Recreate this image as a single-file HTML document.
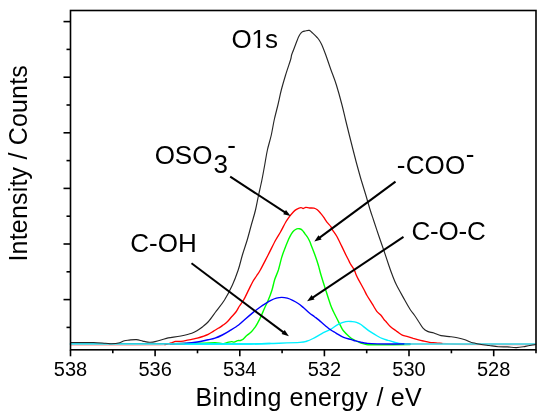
<!DOCTYPE html>
<html><head><meta charset="utf-8"><title>XPS O1s</title>
<style>
html,body{margin:0;padding:0;background:#fff;}
body{width:550px;height:417px;overflow:hidden;position:relative;font-family:"Liberation Sans",Arial,sans-serif;}
svg{position:absolute;left:0;top:0;display:block;}
svg text{font-family:"Liberation Sans",Arial,sans-serif;fill:#000;}
</style></head><body>
<svg width="550" height="417" viewBox="0 0 550 417">
<rect width="550" height="417" fill="#fff"/>
<path d="M70.5,345.4 C78.8,345.4 105.1,345.4 120.0,345.4 C134.9,345.3 152.5,345.2 160.0,345.1 C167.5,345.0 164.2,344.7 165.0,344.6" fill="none" stroke="#ff0000" stroke-width="1.2" opacity="0.25"/>
<path d="M442.0,343.3 C443.3,343.4 445.3,343.8 450.0,344.0 C454.7,344.2 455.8,344.5 470.0,344.6 C484.2,344.8 524.6,344.8 535.5,344.9" fill="none" stroke="#ff0000" stroke-width="1.2" opacity="0.25"/>
<path d="M165.0,344.6 C165.6,344.5 167.3,344.1 168.5,343.8 C169.7,343.5 171.0,343.0 172.2,342.6 C173.4,342.2 174.1,341.6 175.5,341.4 C176.9,341.2 179.1,341.6 180.9,341.4 C182.7,341.2 184.6,340.8 186.4,340.4 C188.2,340.0 190.0,339.7 191.8,339.3 C193.6,338.9 195.5,338.7 197.3,338.2 C199.1,337.7 200.9,337.1 202.7,336.5 C204.5,335.9 206.4,335.3 208.2,334.4 C210.0,333.5 211.8,332.2 213.6,331.1 C215.4,330.0 217.4,328.9 219.1,327.8 C220.8,326.8 222.1,325.8 223.5,324.8 C224.9,323.8 226.1,323.0 227.3,321.8 C228.6,320.6 229.6,319.1 231.0,317.5 C232.4,315.9 234.5,313.9 235.9,312.0 C237.3,310.1 238.2,308.0 239.5,306.0 C240.8,304.0 242.0,302.7 243.6,300.0 C245.2,297.3 247.3,292.6 248.8,289.6 C250.3,286.6 251.3,284.3 252.6,282.0 C253.9,279.7 255.2,278.0 256.5,276.0 C257.8,274.0 258.4,273.5 260.3,270.0 C262.2,266.5 265.5,260.0 268.1,255.0 C270.7,250.0 273.6,243.8 275.7,240.0 C277.8,236.2 278.8,235.0 280.5,232.0 C282.2,229.0 284.3,224.6 285.8,222.0 C287.3,219.4 288.4,218.0 289.6,216.3 C290.9,214.6 292.2,213.2 293.3,212.0 C294.4,210.8 295.2,210.0 296.5,209.3 C297.8,208.6 299.8,207.7 300.9,207.6 C302.0,207.5 302.3,208.5 303.1,208.5 C303.9,208.5 304.7,207.5 305.8,207.4 C306.9,207.3 308.2,207.9 309.6,208.0 C311.0,208.1 312.7,207.9 314.0,208.2 C315.3,208.5 316.2,209.0 317.3,209.8 C318.4,210.6 319.4,211.8 320.5,213.1 C321.6,214.4 322.7,215.8 323.8,217.4 C324.9,219.0 325.9,220.9 327.1,222.4 C328.3,223.9 330.0,225.4 330.9,226.7 C331.8,228.0 331.5,228.4 332.5,230.0 C333.5,231.6 335.3,233.8 336.9,236.5 C338.4,239.2 340.3,243.3 341.8,246.4 C343.3,249.5 344.7,252.5 345.8,254.8 C346.9,257.1 347.8,258.6 348.5,260.0 C349.2,261.4 349.2,261.9 350.2,263.5 C351.1,265.1 353.2,268.0 354.2,269.8 C355.2,271.6 355.3,272.9 356.0,274.5 C356.7,276.1 357.1,277.0 358.5,279.6 C359.9,282.2 362.8,287.4 364.2,290.0 C365.6,292.6 365.6,293.1 367.0,295.5 C368.4,297.9 370.8,301.6 372.4,304.2 C374.0,306.8 375.4,309.5 376.8,311.3 C378.2,313.1 379.2,313.4 380.5,314.8 C381.8,316.2 383.5,318.9 384.4,320.0 C385.3,321.1 384.9,320.4 385.9,321.5 C386.9,322.6 388.5,324.9 390.3,326.5 C392.1,328.1 394.8,329.9 396.8,331.4 C398.8,332.8 400.5,334.3 402.3,335.2 C404.1,336.1 405.9,336.1 407.7,336.6 C409.5,337.1 411.4,337.8 413.2,338.4 C415.0,338.9 416.8,339.4 418.6,339.9 C420.4,340.4 422.3,340.8 424.1,341.2 C425.9,341.6 427.5,342.0 429.5,342.3 C431.5,342.6 433.9,342.6 436.0,342.8 C438.1,343.0 441.0,343.2 442.0,343.3" fill="none" stroke="#ff0000" stroke-width="1.35" stroke-linejoin="round" stroke-linecap="round"/>
<path d="M170.0,343.7 C175.0,343.6 192.5,343.4 200.0,343.3 C207.5,343.2 211.3,342.8 215.0,342.8 C218.7,342.9 220.3,343.6 222.3,343.6 C224.3,343.6 225.3,343.0 226.8,342.7 C228.3,342.4 230.2,341.7 231.4,341.6 C232.6,341.5 233.1,342.3 234.1,342.1 C235.1,341.9 236.6,340.9 237.7,340.6 C238.8,340.3 239.6,340.8 240.5,340.5 C241.4,340.2 242.1,339.9 243.2,339.1 C244.2,338.3 245.4,336.7 246.8,335.5 C248.2,334.3 250.0,333.2 251.4,331.8 C252.8,330.4 253.9,328.8 255.0,327.3 C256.1,325.8 256.7,324.7 257.7,322.9 C258.7,321.1 259.9,318.8 261.0,316.4 C262.1,314.0 263.1,311.4 264.3,308.7 C265.5,306.0 266.9,303.4 268.2,300.3 C269.5,297.2 270.9,293.5 272.0,290.0 C273.1,286.5 273.7,282.6 274.8,279.3 C275.9,276.0 277.2,273.6 278.4,270.0 C279.5,266.4 280.7,260.8 281.7,257.4 C282.7,254.0 283.4,252.5 284.5,249.5 C285.6,246.5 287.5,241.9 288.6,239.3 C289.8,236.7 290.5,235.2 291.4,233.8 C292.3,232.4 293.2,231.4 294.1,230.6 C295.0,229.8 295.9,229.1 296.8,228.8 C297.7,228.5 298.6,228.6 299.5,228.8 C300.4,229.0 301.4,229.4 302.3,230.2 C303.2,231.0 304.1,232.6 305.0,233.8 C305.9,235.0 306.9,236.1 307.7,237.5 C308.5,238.9 309.4,240.6 310.0,242.0 C310.6,243.4 310.6,243.7 311.5,246.0 C312.4,248.3 314.1,252.6 315.3,255.9 C316.5,259.2 317.6,262.5 318.5,265.7 C319.4,268.9 319.9,271.3 321.0,275.0 C322.1,278.7 323.5,283.1 325.1,288.1 C326.7,293.1 329.2,301.1 330.6,305.0 C332.0,308.9 332.3,309.1 333.4,311.5 C334.5,313.9 336.2,317.1 337.4,319.5 C338.6,321.9 339.5,323.9 340.5,325.7 C341.5,327.5 341.8,328.7 343.2,330.5 C344.6,332.3 347.4,334.9 349.1,336.4 C350.8,337.9 351.5,338.4 353.5,339.5 C355.5,340.6 358.8,342.3 360.9,343.1 C363.0,343.9 363.7,344.2 366.4,344.5 C369.1,344.8 370.0,344.8 377.3,344.8 C384.6,344.8 404.6,344.6 410.0,344.6" fill="none" stroke="#00ff00" stroke-width="1.4" stroke-linejoin="round" stroke-linecap="round"/>
<path d="M175.0,344.0 C179.2,344.0 191.7,344.0 200.0,344.0 C208.3,344.0 216.7,344.0 225.0,344.0 C233.3,344.0 242.5,344.1 250.0,344.0 C257.5,343.9 261.7,343.8 270.0,343.5 C278.3,343.2 293.9,342.8 300.0,342.4 C306.1,342.0 304.3,341.9 306.5,341.3 C308.7,340.7 310.6,339.8 313.1,338.5 C315.7,337.2 318.9,335.1 321.8,333.6 C324.7,332.1 327.8,330.8 330.5,329.3 C333.2,327.8 335.6,325.7 338.2,324.4 C340.8,323.1 343.4,322.1 345.8,321.6 C348.2,321.1 350.5,321.5 352.3,321.6 C354.1,321.7 355.1,321.9 356.5,322.4 C357.9,322.9 359.2,323.4 360.9,324.5 C362.5,325.6 364.6,327.5 366.4,328.9 C368.2,330.3 370.0,331.5 371.8,332.7 C373.6,333.9 375.5,335.0 377.3,336.0 C379.1,337.0 380.9,338.0 382.7,338.7 C384.5,339.4 386.4,339.8 388.2,340.4 C390.0,340.9 391.8,341.5 393.6,342.0 C395.4,342.5 396.4,343.1 399.1,343.4 C401.8,343.7 408.2,343.8 410.0,343.9" fill="none" stroke="#00f0ff" stroke-width="1.4" stroke-linejoin="round" stroke-linecap="round"/>
<path d="M170.0,343.8 C172.7,343.7 181.8,343.6 186.4,343.3 C191.0,343.0 193.7,342.6 197.3,342.0 C200.9,341.4 205.2,340.4 208.2,339.8 C211.1,339.2 212.7,339.0 215.0,338.2 C217.3,337.4 219.9,336.2 222.3,335.0 C224.7,333.8 226.8,332.6 229.5,330.9 C232.2,329.2 236.3,326.7 238.6,325.0 C240.9,323.3 241.2,322.7 243.5,320.7 C245.8,318.7 249.4,315.5 252.3,313.1 C255.2,310.7 258.8,308.1 261.0,306.5 C263.2,304.9 263.9,304.6 265.5,303.6 C267.1,302.6 269.1,301.3 270.9,300.4 C272.7,299.5 274.6,298.7 276.4,298.2 C278.2,297.7 280.0,297.4 281.8,297.4 C283.6,297.4 285.5,297.7 287.3,298.2 C289.1,298.7 290.9,299.5 292.7,300.4 C294.5,301.3 296.4,302.3 298.2,303.5 C300.0,304.7 301.8,306.3 303.6,307.8 C305.4,309.3 307.3,311.2 309.1,312.7 C310.9,314.2 312.9,315.5 314.5,316.7 C316.1,317.9 316.9,318.4 318.7,319.9 C320.5,321.4 323.1,323.9 325.1,325.5 C327.1,327.1 328.7,328.5 330.5,329.8 C332.3,331.1 333.8,331.8 336.0,333.1 C338.2,334.4 341.1,336.3 343.6,337.4 C346.2,338.5 349.3,339.0 351.3,339.6 C353.3,340.2 353.9,340.5 355.5,340.9 C357.1,341.3 359.1,341.8 360.9,342.2 C362.7,342.6 363.7,343.0 366.4,343.3 C369.1,343.6 370.0,343.8 377.3,343.9 C384.6,344.0 404.6,343.9 410.0,343.9" fill="none" stroke="#0000ff" stroke-width="1.4" stroke-linejoin="round" stroke-linecap="round"/>
<path d="M175.0,344.0 C179.2,344.0 191.7,344.0 200.0,344.0 C208.3,344.0 216.7,344.0 225.0,344.0 C233.3,344.0 242.5,344.1 250.0,344.0 C257.5,343.9 266.7,343.6 270.0,343.5" fill="none" stroke="#00f0ff" stroke-width="1.4" stroke-linejoin="round" stroke-linecap="round"/>
<path d="M70.5,343.9 C78.8,343.9 101.1,343.9 120.0,343.9 C138.9,343.9 173.3,343.9 184.0,343.9" fill="none" stroke="#30ccdc" stroke-width="1.7" stroke-linejoin="round" stroke-linecap="round"/>
<path d="M405.0,344.0 C415.8,344.0 448.2,344.0 470.0,344.0 C491.8,344.0 524.6,344.0 535.5,344.0" fill="none" stroke="#30ccdc" stroke-width="1.7" stroke-linejoin="round" stroke-linecap="round"/>
<path d="M70.5,342.5 C72.4,342.5 78.0,342.5 81.8,342.5 C85.6,342.5 89.6,342.4 93.6,342.5 C97.5,342.6 102.5,343.1 105.5,343.3 C108.5,343.5 109.1,343.8 111.4,343.7 C113.8,343.6 117.4,343.2 119.6,342.7 C121.8,342.2 122.8,341.1 124.4,340.7 C126.0,340.3 127.1,340.3 129.1,340.1 C131.1,339.9 134.1,339.4 136.4,339.6 C138.7,339.8 140.8,340.7 142.7,341.1 C144.6,341.5 146.1,341.9 147.8,342.1 C149.5,342.3 151.0,342.4 152.9,342.1 C154.8,341.8 156.8,341.2 159.3,340.5 C161.9,339.8 166.1,338.4 168.2,337.9 C170.3,337.4 169.9,337.7 172.0,337.4 C174.1,337.1 177.6,336.7 180.9,336.0 C184.2,335.3 189.1,334.2 191.8,333.3 C194.5,332.4 195.5,331.6 197.3,330.5 C199.1,329.4 200.8,328.2 202.7,326.7 C204.6,325.2 206.2,324.1 208.5,321.5 C210.8,318.9 213.7,314.5 216.4,310.9 C219.1,307.3 221.8,304.3 224.5,300.0 C227.2,295.7 230.1,290.0 232.4,285.0 C234.7,280.0 236.5,275.0 238.2,270.0 C239.9,265.0 240.9,260.0 242.4,255.0 C243.9,250.0 245.7,245.0 247.2,240.0 C248.7,235.0 249.9,230.0 251.3,225.0 C252.7,220.0 254.3,215.0 255.5,210.0 C256.7,205.0 257.5,200.0 258.6,195.0 C259.7,190.0 260.9,185.0 261.9,180.0 C262.9,175.0 263.8,170.0 264.7,165.0 C265.6,160.0 266.3,155.0 267.4,150.0 C268.5,145.0 270.2,140.0 271.3,135.0 C272.4,130.0 273.1,125.0 274.2,120.0 C275.3,115.0 276.7,110.0 277.9,105.0 C279.1,100.0 280.0,95.0 281.3,90.0 C282.6,85.0 284.1,80.0 285.6,75.0 C287.1,70.0 289.5,63.3 290.5,60.0 C291.5,56.7 291.1,56.7 291.6,55.0 C292.1,53.3 292.9,51.7 293.5,50.0 C294.1,48.3 294.8,46.7 295.4,45.0 C296.0,43.3 296.7,41.5 297.3,40.0 C297.9,38.5 298.3,37.3 298.9,36.2 C299.5,35.1 300.1,34.1 300.7,33.4 C301.3,32.6 301.8,32.1 302.5,31.7 C303.2,31.3 304.0,31.2 305.1,31.0 C306.2,30.8 308.1,30.0 309.4,30.4 C310.7,30.8 311.4,32.0 312.7,33.2 C314.0,34.4 316.0,36.3 317.1,37.5 C318.2,38.7 318.5,39.0 319.3,40.3 C320.1,41.6 320.9,42.8 322.0,45.2 C323.1,47.7 324.3,50.9 325.8,55.0 C327.3,59.1 329.2,65.0 331.0,70.0 C332.8,75.0 334.6,79.2 336.4,85.0 C338.2,90.8 340.5,99.2 342.0,105.0 C343.5,110.8 344.4,115.0 345.6,120.0 C346.8,125.0 348.1,130.0 349.3,135.0 C350.6,140.0 351.8,145.0 353.1,150.0 C354.4,155.0 355.6,160.0 357.0,165.0 C358.4,170.0 359.7,175.0 361.2,180.0 C362.7,185.0 364.3,190.0 365.8,195.0 C367.3,200.0 368.9,205.8 370.2,210.0 C371.5,214.2 372.1,215.8 373.5,220.0 C374.9,224.2 376.8,230.0 378.5,235.0 C380.2,240.0 382.0,245.0 383.7,250.0 C385.4,255.0 387.3,260.8 388.7,265.0 C390.1,269.2 391.0,271.7 392.3,275.0 C393.6,278.3 394.4,280.8 396.5,285.0 C398.6,289.2 402.4,295.8 404.7,300.0 C407.0,304.2 408.9,307.5 410.5,310.0 C412.1,312.5 412.9,313.1 414.3,315.0 C415.7,316.9 417.2,319.3 418.6,321.5 C420.1,323.7 421.5,326.5 423.0,328.1 C424.5,329.8 425.8,330.6 427.6,331.4 C429.4,332.2 431.7,332.3 433.9,333.0 C436.1,333.7 438.2,335.0 441.0,335.6 C443.8,336.2 448.1,336.3 450.8,336.7 C453.5,337.1 454.9,337.3 457.3,337.8 C459.7,338.3 462.7,339.0 465.0,339.7 C467.3,340.4 468.5,341.4 471.0,342.2 C473.5,342.9 477.0,343.6 480.0,344.2 C483.0,344.8 486.1,345.1 489.1,345.5 C492.1,345.9 495.2,346.5 498.2,346.7 C501.2,346.9 504.3,346.8 507.3,346.9 C510.3,347.0 513.4,347.7 516.4,347.6 C519.4,347.5 522.3,346.9 525.5,346.4 C528.7,345.9 533.8,344.8 535.5,344.5" fill="none" stroke="#262626" stroke-width="1.15" stroke-linejoin="round" stroke-linecap="round"/>
<line x1="230.2" y1="176.6" x2="285.4" y2="212.7" stroke="#000" stroke-width="2"/>
<path d="M290.6,216.1 L283.2,214.3 L286.0,210.0 Z" fill="#000"/>
<line x1="395.5" y1="181.6" x2="319.3" y2="237.9" stroke="#000" stroke-width="2"/>
<path d="M314.3,241.6 L318.5,235.2 L321.6,239.4 Z" fill="#000"/>
<line x1="403.5" y1="236.8" x2="312.3" y2="297.9" stroke="#000" stroke-width="2"/>
<path d="M307.1,301.3 L311.6,295.1 L314.5,299.5 Z" fill="#000"/>
<line x1="191.5" y1="263.2" x2="283.9" y2="332.6" stroke="#000" stroke-width="2"/>
<path d="M288.9,336.3 L281.6,334.1 L284.7,329.9 Z" fill="#000"/>
<rect x="70.5" y="10.5" width="465.5" height="339.3" fill="none" stroke="#000" stroke-width="1.6"/>
<line x1="536.0" y1="349.8" x2="536.0" y2="353.3" stroke="#000" stroke-width="1.6"/>
<line x1="493.7" y1="349.8" x2="493.7" y2="356.3" stroke="#000" stroke-width="1.6"/>
<line x1="451.4" y1="349.8" x2="451.4" y2="353.3" stroke="#000" stroke-width="1.6"/>
<line x1="409.0" y1="349.8" x2="409.0" y2="356.3" stroke="#000" stroke-width="1.6"/>
<line x1="366.7" y1="349.8" x2="366.7" y2="353.3" stroke="#000" stroke-width="1.6"/>
<line x1="324.4" y1="349.8" x2="324.4" y2="356.3" stroke="#000" stroke-width="1.6"/>
<line x1="282.1" y1="349.8" x2="282.1" y2="353.3" stroke="#000" stroke-width="1.6"/>
<line x1="239.8" y1="349.8" x2="239.8" y2="356.3" stroke="#000" stroke-width="1.6"/>
<line x1="197.5" y1="349.8" x2="197.5" y2="353.3" stroke="#000" stroke-width="1.6"/>
<line x1="155.1" y1="349.8" x2="155.1" y2="356.3" stroke="#000" stroke-width="1.6"/>
<line x1="112.8" y1="349.8" x2="112.8" y2="353.3" stroke="#000" stroke-width="1.6"/>
<line x1="70.5" y1="349.8" x2="70.5" y2="356.3" stroke="#000" stroke-width="1.6"/>
<line x1="70.5" y1="21.6" x2="63.5" y2="21.6" stroke="#000" stroke-width="1.6"/>
<line x1="70.5" y1="49.4" x2="66.5" y2="49.4" stroke="#000" stroke-width="1.6"/>
<line x1="70.5" y1="77.2" x2="63.5" y2="77.2" stroke="#000" stroke-width="1.6"/>
<line x1="70.5" y1="105.0" x2="66.5" y2="105.0" stroke="#000" stroke-width="1.6"/>
<line x1="70.5" y1="132.8" x2="63.5" y2="132.8" stroke="#000" stroke-width="1.6"/>
<line x1="70.5" y1="160.6" x2="66.5" y2="160.6" stroke="#000" stroke-width="1.6"/>
<line x1="70.5" y1="188.4" x2="63.5" y2="188.4" stroke="#000" stroke-width="1.6"/>
<line x1="70.5" y1="216.2" x2="66.5" y2="216.2" stroke="#000" stroke-width="1.6"/>
<line x1="70.5" y1="244.0" x2="63.5" y2="244.0" stroke="#000" stroke-width="1.6"/>
<line x1="70.5" y1="271.8" x2="66.5" y2="271.8" stroke="#000" stroke-width="1.6"/>
<line x1="70.5" y1="299.6" x2="63.5" y2="299.6" stroke="#000" stroke-width="1.6"/>
<line x1="70.5" y1="327.4" x2="66.5" y2="327.4" stroke="#000" stroke-width="1.6"/>
<text x="231.43" y="48.2" font-size="26" textLength="46.69">O1s</text>
<text x="154.71" y="164.2" font-size="26" textLength="57.66">OSO</text>
<text x="213.60" y="172.6" font-size="26">3</text>
<text x="227.30" y="154.0" font-size="26">-</text>
<text x="396.85" y="173.6" font-size="26" textLength="68.38">-COO</text>
<text x="465.70" y="162.5" font-size="26">-</text>
<text x="411.41" y="240.0" font-size="26" textLength="74.37">C-O-C</text>
<text x="130.30" y="251.7" font-size="26" textLength="66.56">C-OH</text>
<text x="195.38 212.50 218.50 232.85 247.20 253.20 267.55 281.45 289.53 303.78 318.04 332.30 340.98 355.24 367.74 376.50 383.45 390.74 404.90" y="405.6" font-size="25">Binding energy / eV</text>
<rect x="252.42" y="45.70" width="5.14" height="3.1" fill="#fff"/>
<rect x="260.12" y="45.70" width="5.26" height="3.1" fill="#fff"/>
<text transform="translate(26.7,0) rotate(-90)" x="-261.54" y="0" font-size="25" textLength="196.36">Intensity / Counts</text>
<text x="493.7" y="375.5" font-size="20" text-anchor="middle">528</text>
<text x="409.0" y="375.5" font-size="20" text-anchor="middle">530</text>
<text x="324.4" y="375.5" font-size="20" text-anchor="middle">532</text>
<text x="239.8" y="375.5" font-size="20" text-anchor="middle">534</text>
<text x="155.1" y="375.5" font-size="20" text-anchor="middle">536</text>
<text x="70.5" y="375.5" font-size="20" text-anchor="middle">538</text>
</svg>

</body></html>
